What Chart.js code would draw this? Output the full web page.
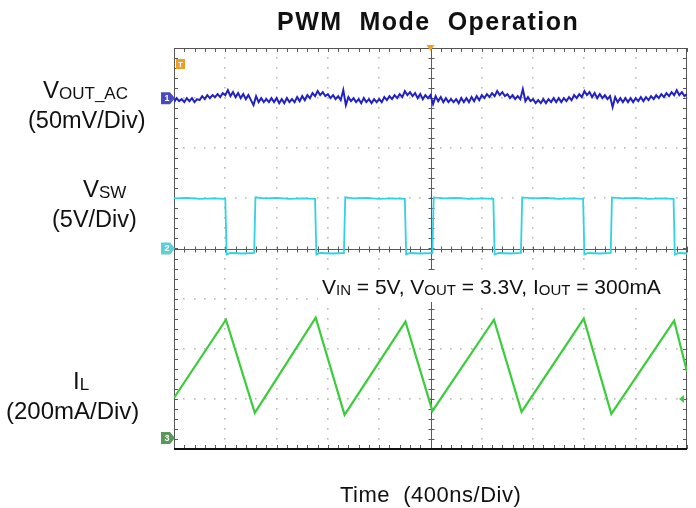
<!DOCTYPE html>
<html lang="en">
<head>
<meta charset="UTF-8">
<title>PWM Mode Operation</title>
<script src="https://cdn.jsdelivr.net/npm/chart.js@4"></script>
<style>
  html, body { margin: 0; padding: 0; background: #fff; }
  #wrap { position: relative; width: 696px; height: 508px; }
</style>
</head>
<body>
<div id="wrap"><canvas id="scope"></canvas></div>
<script>
// scope screen: 10 x 8 divisions, 400 ns/div
const TIME_PER_DIV = 400;
const DIVS_X = 10, DIVS_Y = 8;

// CH1 VOUT_AC (50mV/div), ground marker 3 div above centre, sampled every 20 ns
const voutScale = 50, voutOffset = 3;
const voutStepNs = 20;
const voutMv = [
  -4,0,-3,-1,-4,0,-3,0,-4,-1,
  -2,2,-1,3,0,3,1,4,1,5,
  3,8,2,6,1,5,0,4,-1,3,
  -2,-7,2,-4,0,-4,-1,-4,0,-4,
  0,-5,-1,-5,0,-4,-1,-4,1,-3,
  2,-2,3,0,5,2,7,3,6,2,
  4,0,3,-1,2,-2,8,-7,1,-3,
  0,-4,-1,-5,0,-4,-1,-5,-1,-4,
  -1,-4,1,-2,2,-1,3,0,4,1,
  7,3,6,2,5,0,4,-1,3,0,
  3,-6,2,-3,1,-4,0,-4,-1,-4,
  -1,-5,0,-4,0,-4,1,-3,2,-2,
  3,0,4,1,5,2,7,3,6,2,
  4,0,3,-1,2,-1,9,-3,1,-3,
  -1,-5,-2,-5,-1,-5,-1,-4,0,-4,
  0,-4,0,-3,1,-2,3,0,4,1,
  7,3,6,1,5,0,4,0,3,-1,
  2,-9,1,-4,0,-4,0,-4,0,-4,
  0,-3,1,-3,1,-2,2,-1,3,0,
  4,1,5,2,6,3,8,3,6,2,
  4
];

// CH2 VSW (5V/div), ground on centre line
const swScale = 5, swOffset = 0;
const swTimeNs = [0,100,200,300,400, 410,440,540,625,
  635,700,800,900,1000,1100, 1110,1140,1230,1325,
  1335,1400,1500,1600,1700,1800, 1810,1840,1920,2015,
  2025,2100,2200,2300,2400,2490, 2500,2530,2620,2705,
  2715,2800,2900,3000,3100,3190, 3200,3230,3320,3405,
  3415,3500,3600,3700,3800,3895, 3905,3940,4000];
const swVolt = [5.0,5.05,4.95,5.0,4.95, -0.6,-0.45,-0.5,-0.45,
  5.1,5.0,5.05,4.95,5.0,4.95, -0.6,-0.45,-0.5,-0.45,
  5.1,5.0,5.05,4.95,5.0,4.95, -0.6,-0.45,-0.5,-0.45,
  5.1,5.0,5.05,4.95,5.0,4.95, -0.6,-0.45,-0.5,-0.45,
  5.1,5.0,5.05,4.95,5.0,4.95, -0.6,-0.45,-0.5,-0.45,
  5.1,5.0,5.05,4.95,5.0,4.95, -0.6,-0.45,-0.5];

// CH3 IL (200mA/div), ground marker 3.78 div below centre
const ilScale = 200, ilOffset = -3.78;
const ilTimeNs = [0,405,630,1105,1330,1805,2015,2495,2710,3195,3410,3900,4000];
const ilMa = [160,472,100,480,92,464,108,472,104,476,96,468,264];
const ilTriggerMa = 156;

const colors = { vout: '#2222c4', sw: '#2fd3e3', il: '#3ccc3c' };
const FONT = '"Liberation Sans", Arial, Helvetica, sans-serif';

function toDiv(t, v, scale, offset) {
  return { x: t, y: v / scale + offset };
}

const voutData = voutMv.map((v, i) => toDiv(i * voutStepNs, v, voutScale, voutOffset));
const swData = swTimeNs.map((t, i) => toDiv(t, swVolt[i], swScale, swOffset));
const ilData = ilTimeNs.map((t, i) => toDiv(t, ilMa[i], ilScale, ilOffset));

// draws text with subscripts, parts alternate normal / subscript
function rich(ctx, parts, x, y, big, small) {
  let cx = x;
  parts.forEach((p, i) => {
    const sub = i % 2 === 1;
    ctx.font = (sub ? small : big) + 'px ' + FONT;
    ctx.fillText(p, cx, y + (sub ? 1 : 0));
    cx += ctx.measureText(p).width;
  });
}

const scopeScreen = {
  id: 'scopeScreen',
  beforeDatasetsDraw(chart) {
    const { ctx, chartArea: a, scales: { x, y } } = chart;
    const xp = d => x.getPixelForValue(d * TIME_PER_DIV);
    const yp = d => y.getPixelForValue(d);
    ctx.save();
    // dotted graticule
    ctx.fillStyle = '#bbbbbb';
    for (let k = 1; k < DIVS_X; k++) {
      if (k === DIVS_X / 2) continue;
      for (let s = -DIVS_Y / 2 + 0.2; s < DIVS_Y / 2; s += 0.2) {
        ctx.fillRect(Math.round(xp(k)) - 1, Math.round(yp(s)) - 1, 1.6, 1.6);
      }
    }
    for (let k = -DIVS_Y / 2 + 1; k < DIVS_Y / 2; k++) {
      if (k === 0) continue;
      for (let s = 0.2; s < DIVS_X; s += 0.2) {
        ctx.fillRect(Math.round(xp(s)) - 1, Math.round(yp(k)) - 1, 1.6, 1.6);
      }
    }
    // centre axes with minor ticks
    ctx.strokeStyle = '#5a5a5a';
    ctx.lineWidth = 1;
    const cx = Math.round(xp(DIVS_X / 2)) + 0.5, cy = Math.round(yp(0)) + 0.5;
    ctx.beginPath();
    ctx.moveTo(a.left, cy); ctx.lineTo(a.right, cy);
    ctx.moveTo(cx, a.top); ctx.lineTo(cx, a.bottom);
    for (let s = 0.2; s < DIVS_X; s += 0.2) {
      const px = Math.round(xp(s)) + 0.5;
      ctx.moveTo(px, cy - 3); ctx.lineTo(px, cy + 3);
      ctx.moveTo(px, a.top); ctx.lineTo(px, a.top + 4);
      ctx.moveTo(px, a.bottom); ctx.lineTo(px, a.bottom - 4);
    }
    for (let s = -DIVS_Y / 2 + 0.2; s < DIVS_Y / 2; s += 0.2) {
      const py = Math.round(yp(s)) + 0.5;
      ctx.moveTo(cx - 3, py); ctx.lineTo(cx + 3, py);
      ctx.moveTo(a.left, py); ctx.lineTo(a.left + 4, py);
      ctx.moveTo(a.right, py); ctx.lineTo(a.right - 4, py);
    }
    ctx.stroke();
    // frame
    ctx.strokeStyle = '#555';
    ctx.strokeRect(a.left + 0.5, a.top + 0.5, a.right - a.left - 1, a.bottom - a.top - 1);
    ctx.strokeStyle = '#111';
    ctx.lineWidth = 2;
    ctx.beginPath();
    ctx.moveTo(a.left, a.bottom); ctx.lineTo(a.right, a.bottom);
    ctx.stroke();
    ctx.restore();
  },
  afterDatasetsDraw(chart) {
    const { ctx, chartArea: a, scales: { x, y } } = chart;
    ctx.save();
    // channel ground tags
    const tag = (off, col, num) => {
      const py = y.getPixelForValue(off);
      ctx.fillStyle = col;
      ctx.beginPath();
      ctx.moveTo(a.left - 13, py - 6);
      ctx.lineTo(a.left - 4, py - 6);
      ctx.lineTo(a.left + 1, py);
      ctx.lineTo(a.left - 4, py + 6);
      ctx.lineTo(a.left - 13, py + 6);
      ctx.closePath();
      ctx.fill();
      ctx.fillStyle = '#fff';
      ctx.font = 'bold 9px ' + FONT;
      ctx.textAlign = 'center';
      ctx.textBaseline = 'middle';
      ctx.fillText(num, a.left - 7, py + 0.5);
    };
    tag(voutOffset, '#4a4ac0', '1');
    tag(swOffset, '#5ccfd8', '2');
    tag(ilOffset, '#5a985a', '3');
    // trigger position & T marker
    const tx = x.getPixelForValue(DIVS_X / 2 * TIME_PER_DIV);
    ctx.fillStyle = '#f0a020';
    ctx.beginPath();
    ctx.moveTo(tx - 4, a.top - 3); ctx.lineTo(tx + 4, a.top - 3); ctx.lineTo(tx, a.top + 3);
    ctx.closePath(); ctx.fill();
    ctx.fillRect(a.left + 2, a.top + 11, 9, 10);
    ctx.fillStyle = '#fff';
    ctx.font = 'bold 8px ' + FONT;
    ctx.textAlign = 'center'; ctx.textBaseline = 'middle';
    ctx.fillText('T', a.left + 6.5, a.top + 16.5);
    // trigger level arrow for IL
    const ly = y.getPixelForValue(ilTriggerMa / ilScale + ilOffset);
    ctx.fillStyle = colors.il;
    ctx.beginPath();
    ctx.moveTo(a.right - 8, ly); ctx.lineTo(a.right - 3, ly - 4); ctx.lineTo(a.right - 3, ly + 4);
    ctx.closePath(); ctx.fill();
    ctx.restore();

    // texts
    ctx.save();
    ctx.fillStyle = '#111';
    ctx.textBaseline = 'alphabetic';
    ctx.textAlign = 'left';
    ctx.letterSpacing = '1.5px';
    ctx.font = 'bold 25px ' + FONT;
    ctx.fillText('PWM  Mode  Operation', 277, 30);
    ctx.letterSpacing = '0.5px';
    ctx.font = '22px ' + FONT;
    ctx.fillText('Time  (400ns/Div)', 340, 502);
    ctx.letterSpacing = '0px';
    rich(ctx, ['V', 'OUT_AC'], 43, 98, 24, 17);
    ctx.font = '23.5px ' + FONT;
    ctx.fillText('(50mV/Div)', 28, 128);
    rich(ctx, ['V', 'SW'], 83, 197, 24, 17);
    ctx.font = '23.5px ' + FONT;
    ctx.fillText('(5V/Div)', 52, 227);
    rich(ctx, ['I', 'L'], 73, 389, 24, 17);
    ctx.font = '24px ' + FONT;
    ctx.fillText('(200mA/Div)', 6, 419);
    ctx.fillStyle = '#fff';
    ctx.fillRect(318, 270, 366, 32);
    ctx.fillStyle = '#111';
    rich(ctx, ['V', 'IN', ' = 5V, V', 'OUT', ' = 3.3V, I', 'OUT', ' = 300mA'], 322, 294, 21, 15);
    ctx.restore();
  }
};

new Chart(document.getElementById('scope'), {
  type: 'line',
  data: {
    datasets: [
      { label: 'VOUT_AC', data: voutData, borderColor: colors.vout, borderWidth: 2 },
      { label: 'VSW', data: swData, borderColor: colors.sw, borderWidth: 1.8 },
      { label: 'IL', data: ilData, borderColor: colors.il, borderWidth: 2.2 }
    ]
  },
  options: {
    responsive: true,
    maintainAspectRatio: false,
    animation: false,
    elements: { point: { radius: 0 }, line: { tension: 0 } },
    layout: { padding: { left: 174, right: 9, top: 48, bottom: 59 } },
    scales: {
      x: { type: 'linear', display: false, min: 0, max: DIVS_X * TIME_PER_DIV },
      y: { type: 'linear', display: false, min: -DIVS_Y / 2, max: DIVS_Y / 2 }
    },
    plugins: { legend: { display: false }, tooltip: { enabled: false } }
  },
  plugins: [scopeScreen]
});
</script>
</body>
</html>
